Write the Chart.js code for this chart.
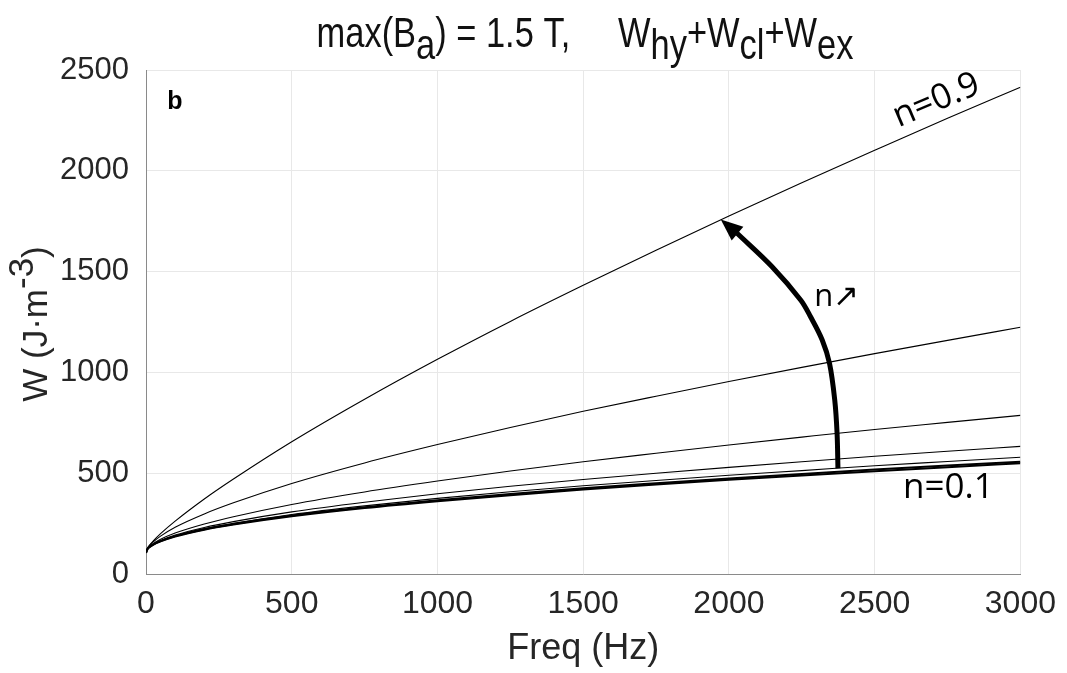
<!DOCTYPE html>
<html>
<head>
<meta charset="utf-8">
<script src="https://cdn.jsdelivr.net/npm/chart.js@4/dist/chart.umd.min.js"></script>
<style>
html,body{margin:0;padding:0;background:#fff;}
#wrap{width:1067px;height:673px;position:relative;}
</style>
</head>
<body>
<div id="wrap"><canvas id="c"></canvas></div>
<script>
// ---- data ----
const freq = [0,5,10,25,50,100,200,300,500,750,1000,1250,1500,1750,2000,2250,2500,2750,3000];
const w_n01 = [105,123,131,146,162,186,220,245,286,327,361,391,419,444,467,489,510,530,549];
const w_n02 = [105,123,131,146,163,188,222,248,290,331,366,397,425,450,474,496,518,538,557];
const w_n03 = [105,123,131,146,164,189,225,251,295,338,375,408,438,464,490,513,537,558,579];
const w_n05 = [105,123,132,148,166,193,231,260,308,356,398,435,469,500,529,557,584,609,633];
const w_n07 = [105,124,133,151,172,203,248,284,345,407,461,511,557,599,640,679,717,752,787];
const w_n08 = [105,127,138,160,188,232,298,353,449,551,642,727,807,882,955,1025,1093,1159,1224];
const w_n09 = [105,128,139,164,200,262,372,471,656,867,1065,1253,1432,1606,1776,1941,2102,2261,2415];
const seriesNames = ['n=0.1','n=0.2','n=0.3','n=0.5','n=0.7','n=0.8','n=0.9'];
const seriesValues = [w_n01,w_n02,w_n03,w_n05,w_n07,w_n08,w_n09];
// arrow "n increases" path (Freq, W); last point is the arrow tip
const arrowFreq = [2374,2371,2363,2345,2320,2280,2246,2148,2028,1972];
const arrowW    = [524, 698, 863, 1045,1161,1276,1359,1524,1690,1759];
const xTicks = [0,500,1000,1500,2000,2500,3000];
const yTicks = [0,500,1000,1500,2000,2500];

const FONT = "'Liberation Sans', Arial, Helvetica, sans-serif";
const LFONT = "'Open Sans', 'Noto Sans', sans-serif";

const datasets = seriesValues.map((vals, i) => ({
  label: seriesNames[i],
  data: freq.map((f, j) => ({x: f, y: vals[j]})),
  borderColor: '#000',
  borderWidth: i < 2 ? 2 : 1.1,
  pointRadius: 0,
  tension: 0.3,
  cubicInterpolationMode: 'monotone',
  fill: false
}));
datasets.push({
  label: 'arrow',
  data: arrowFreq.slice(0, -1).map((f, j) => ({x: f, y: arrowW[j]})),
  borderColor: '#000',
  borderWidth: 5,
  pointRadius: 0,
  tension: 0.35,
  fill: false
});

const annotations = [
  {text: 'n=0.9', x: 2712, y: 2348, font: '35px ' + LFONT, rot: -23},
  {text: 'n=0.1', x: 2753, y: 427, font: '35px ' + LFONT, rot: 0},
  {text: 'n\u2197', x: 2370, y: 1374, font: '31px ' + LFONT, rot: 0},
  {text: 'b', x: 99, y: 2341, font: 'bold 25px ' + FONT, rot: 0}
];

function drawRich(ctx, parts, cx, y, font, shift, sx) {
  ctx.font = font;
  let total = 0;
  parts.forEach(p => total += ctx.measureText(p[0]).width);
  ctx.save();
  ctx.translate(cx, y);
  ctx.scale(sx, 1);
  let x = -total / 2;
  ctx.textAlign = 'left';
  ctx.textBaseline = 'alphabetic';
  parts.forEach(p => {
    ctx.fillText(p[0], x, p[1] * shift);
    x += ctx.measureText(p[0]).width;
  });
  ctx.restore();
}

const textPlugin = {
  id: 'textPlugin',
  afterDraw(chart) {
    const ctx = chart.ctx;
    const xs = chart.scales.x, ys = chart.scales.y;
    const area = chart.chartArea;
    ctx.save();
    ctx.fillStyle = '#111';
    // title with subscripts
    drawRich(ctx, [['max(B',0],['a',1],[') = 1.5 T,     W',0],['hy',1],['+W',0],['cl',1],['+W',0],['ex',1]],
      585, 47, '42px ' + FONT, 12, 0.82);
    // y-axis title with superscript
    ctx.save();
    ctx.translate(47, (area.top + area.bottom) / 2 + 2);
    ctx.rotate(-Math.PI / 2);
    ctx.fillStyle = '#262626';
    drawRich(ctx, [['W (J\u00b7m',0],['-3',-1],[')',0]], 0, 0, '35px ' + FONT, 14, 1);
    ctx.restore();
    // annotations
    ctx.fillStyle = '#000';
    annotations.forEach(a => {
      ctx.save();
      ctx.translate(xs.getPixelForValue(a.x), ys.getPixelForValue(a.y));
      ctx.rotate(a.rot * Math.PI / 180);
      ctx.font = a.font;
      ctx.textAlign = 'center';
      ctx.textBaseline = 'middle';
      ctx.fillText(a.text, 0, 0);
      ctx.restore();
    });
    // arrow head
    const n = arrowFreq.length;
    const tx = xs.getPixelForValue(arrowFreq[n-1]), ty = ys.getPixelForValue(arrowW[n-1]);
    const bx = xs.getPixelForValue(arrowFreq[n-2]), by = ys.getPixelForValue(arrowW[n-2]);
    const ang = Math.atan2(ty - by, tx - bx);
    const L = 22, H = 9;
    ctx.beginPath();
    ctx.moveTo(tx, ty);
    ctx.lineTo(tx - L*Math.cos(ang) + H*Math.sin(ang), ty - L*Math.sin(ang) - H*Math.cos(ang));
    ctx.lineTo(tx - L*Math.cos(ang) - H*Math.sin(ang), ty - L*Math.sin(ang) + H*Math.cos(ang));
    ctx.closePath();
    ctx.fill();
    ctx.restore();
  }
};

new Chart(document.getElementById('c'), {
  type: 'line',
  data: {datasets},
  options: {
    responsive: true,
    maintainAspectRatio: false,
    animation: false,
    events: [],
    layout: {padding: {top: 70, right: 39, left: 0, bottom: 0}},
    plugins: {legend: {display: false}, title: {display: false}, tooltip: {enabled: false}},
    scales: {
      x: {
        type: 'linear', min: 0, max: 3000,
        afterBuildTicks(s) { s.ticks = xTicks.map(v => ({value: v})); },
        afterFit(s) { s.height = 673 - 574; },
        grid: {color: '#e8e8e8', lineWidth: 1, drawTicks: false},
        border: {display: true, color: '#8a8a8a', width: 1},
        ticks: {color: '#262626', font: {family: FONT, size: 32}, padding: 11, maxRotation: 0,
                callback: v => String(v)},
        title: {display: true, text: 'Freq (Hz)', color: '#262626', font: {family: FONT, size: 36}, padding: {top: 0, bottom: 2}}
      },
      y: {
        type: 'linear', min: 0, max: 2500,
        afterBuildTicks(s) { s.ticks = yTicks.map(v => ({value: v})); },
        afterFit(s) { s.width = 146; },
        grid: {color: '#e8e8e8', lineWidth: 1, drawTicks: false},
        border: {display: true, color: '#8a8a8a', width: 1},
        ticks: {color: '#262626', font: {family: FONT, size: 31}, padding: 17,
                callback: v => String(v)}
      }
    }
  },
  plugins: [textPlugin]
});
</script>
</body>
</html>
